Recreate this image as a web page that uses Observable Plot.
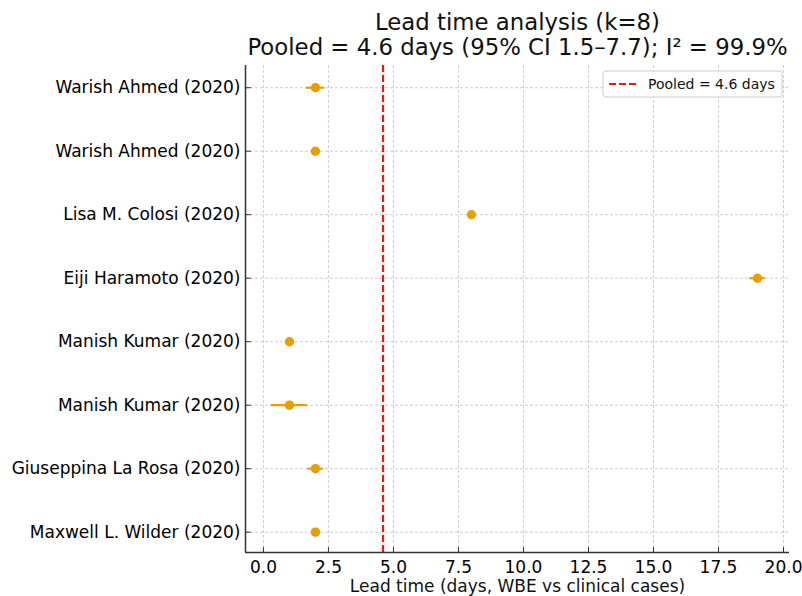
<!DOCTYPE html>
<html>
<head>
<meta charset="utf-8">
<script src="https://cdn.jsdelivr.net/npm/d3@7"></script>
<script src="https://cdn.jsdelivr.net/npm/@observablehq/plot@0.6"></script>
<style>
  html, body { margin: 0; padding: 0; background: #fff; }
  svg { display: block; }
</style>
</head>
<body>
<div id="chart"></div>
<script>
const studies = [
  "Warish Ahmed (2020)",
  "Warish Ahmed (2020)",
  "Lisa M. Colosi (2020)",
  "Eiji Haramoto (2020)",
  "Manish Kumar (2020)",
  "Manish Kumar (2020)",
  "Giuseppina La Rosa (2020)",
  "Maxwell L. Wilder (2020)"
];
const estimates = [2, 2, 8, 19, 1, 1, 2, 2];
const ciLower = [1.65, 1.85, 7.95, 18.7, 0.92, 0.3, 1.7, 1.97];
const ciUpper = [2.35, 2.15, 8.05, 19.3, 1.08, 1.7, 2.3, 2.03];
const xTicks = [0, 2.5, 5, 7.5, 10, 12.5, 15, 17.5, 20];
const pooled = 4.6;
const titleLines = ["Lead time analysis (k=8)", "Pooled = 4.6 days (95% CI 1.5–7.7); I² = 99.9%"];
const xLabel = "Lead time (days, WBE vs clinical cases)";
const legendLabel = "Pooled = 4.6 days";

const rows = studies.map((name, i) => ({i, name, est: estimates[i], lo: ciLower[i], hi: ciUpper[i]}));
const idx = rows.map(d => d.i);

const W = 802, H = 596;
const mL = 245, mR = 13, mT = 65, mB = 44;
const frameW = W - mL - mR, frameH = H - mT - mB;
const xDomain = [-0.69, 20.23];
const yDomain = [-0.35, 7.32];
const orange = "#E69F00";
const red = "#e41a1c";
const gridStyle = {stroke: "#b0b0b0", strokeOpacity: 0.8, strokeDasharray: "3,2", strokeWidth: 0.8};

const chart = Plot.plot({
  width: W, height: H,
  marginLeft: mL, marginRight: mR, marginTop: mT, marginBottom: mB,
  style: {fontFamily: "DejaVu Sans", fontSize: "17px", color: "#000", background: "#fff"},
  x: {domain: xDomain},
  y: {domain: yDomain, reverse: true},
  marks: [
    Plot.gridX(xTicks, gridStyle),
    Plot.gridY(idx, gridStyle),
    Plot.ruleX([pooled], {stroke: red, strokeWidth: 2.2, strokeDasharray: "7,3"}),
    Plot.ruleY(rows, {y: "i", x1: "lo", x2: "hi", stroke: orange, strokeWidth: 2.2}),
    Plot.dot(rows, {x: "est", y: "i", r: 4.7, fill: orange, stroke: null}),
    Plot.axisY(idx, {tickSize: 0, tickPadding: 5, tickFormat: i => studies[i], label: null, fontSize: 17}),
    Plot.axisX(xTicks, {tickSize: 0, tickPadding: 8, tickFormat: d => d.toFixed(1), label: null, fontSize: 17}),
    // inward ticks
    Plot.ruleY(idx, {y: d => d, insetRight: frameW - 6, stroke: "#333", strokeWidth: 1}),
    Plot.ruleX(xTicks, {x: d => d, insetTop: frameH - 5, stroke: "#333", strokeWidth: 1}),
    // spines
    Plot.ruleX([xDomain[0]], {stroke: "#333", strokeWidth: 1.5}),
    Plot.ruleY([yDomain[1]], {stroke: "#333", strokeWidth: 1.5}),
    // titles
    Plot.text([titleLines[0]], {text: d => d, frameAnchor: "top", lineAnchor: "middle", dy: -43, fontSize: 22.8, fill: "#111"}),
    Plot.text([titleLines[1]], {text: d => d, frameAnchor: "top", lineAnchor: "middle", dy: -18, fontSize: 22.8, fill: "#111"}),
    Plot.text([xLabel], {text: d => d, frameAnchor: "bottom", lineAnchor: "middle", dy: 34, fontSize: 17, fill: "#111"})
  ]
});

document.getElementById("chart").appendChild(chart);

// legend (upper right)
const svg = d3.select(chart);
const lg = svg.append("g").attr("font-family", "DejaVu Sans").attr("text-anchor", "start");
const lx = 603, ly = 71, lw = 179, lh = 26;
lg.append("rect").attr("x", lx).attr("y", ly).attr("width", lw).attr("height", lh)
  .attr("rx", 3).attr("fill", "#fff").attr("fill-opacity", 0.85)
  .attr("stroke", "#cccccc").attr("stroke-width", 1);
lg.append("line").attr("x1", lx + 6).attr("x2", lx + 34).attr("y1", ly + 13).attr("y2", ly + 13)
  .attr("stroke", red).attr("stroke-width", 2.2).attr("stroke-dasharray", "7,3");
lg.append("text").attr("x", lx + 45).attr("y", ly + 13).attr("dy", "0.35em")
  .attr("text-anchor", "start")
  .attr("font-size", 14).attr("fill", "#111").text(legendLabel);
</script>
</body>
</html>
